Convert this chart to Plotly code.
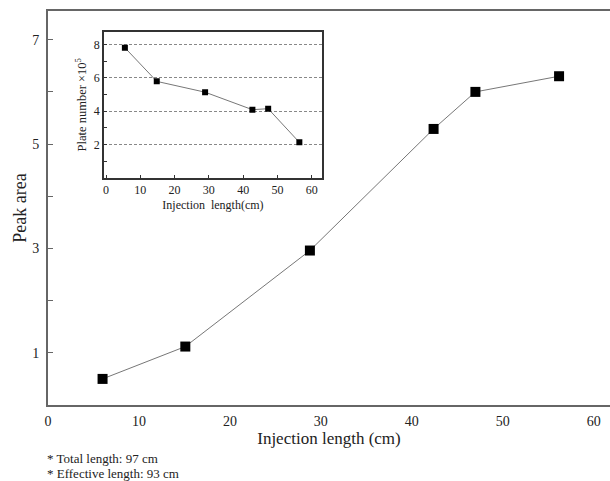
import plotly.graph_objects as go

# Main chart data
inj_len = [6.0, 15.1, 28.8, 42.4, 47.0, 56.2]
peak_area = [0.5, 1.12, 2.96, 5.29, 6.0, 6.3]

# Inset data
inset_len = [5.5, 14.8, 28.9, 42.7, 47.3, 56.4]
plate_num = [7.8, 5.78, 5.13, 4.08, 4.14, 2.12]

main_yticks = [1, 3, 5, 7]
main_xticks = [0, 10, 20, 30, 40, 50, 60]
inset_yticks = [2, 4, 6, 8]

FONT = "Liberation Serif"

fig = go.Figure()
fig.add_trace(go.Scatter(
    x=inj_len, y=peak_area, mode="lines+markers",
    line=dict(color="#777777", width=1),
    marker=dict(symbol="square", size=10, color="black"),
    showlegend=False, xaxis="x", yaxis="y"))
fig.add_trace(go.Scatter(
    x=inset_len, y=plate_num, mode="lines+markers",
    line=dict(color="#777777", width=1),
    marker=dict(symbol="square", size=6, color="black"),
    showlegend=False, xaxis="x2", yaxis="y2"))

fig.update_layout(
    width=610, height=481,
    margin=dict(l=48, r=0, t=11, b=76),
    paper_bgcolor="white", plot_bgcolor="white",
    font=dict(family=FONT, color="#222222"),
    xaxis=dict(
        domain=[0, 1], range=[0, 61.8],
        tickvals=main_xticks, ticks="", showgrid=False, zeroline=False,
        showline=True, linecolor="#666666", linewidth=2, mirror=True,
        tickfont=dict(family=FONT, size=14), ticklabelstandoff=2,
        title=dict(text="Injection length (cm)", font=dict(family=FONT, size=17), standoff=1),
    ),
    yaxis=dict(
        domain=[0, 1], range=[0, 7.55],
        tickvals=main_yticks, ticks="inside", ticklen=5, tickcolor="#666666",
        minor=dict(tickmode="linear", tick0=0, dtick=1, ticks="inside", ticklen=5, tickcolor="#666666"),
        showgrid=False, zeroline=False,
        showline=True, linecolor="#666666", linewidth=2, mirror=False,
        tickfont=dict(family=FONT, size=14), ticklabelstandoff=4,
        title=dict(text="Peak area", font=dict(family=FONT, size=18), standoff=1),
    ),
    xaxis2=dict(
        domain=[0.0996, 0.4875], range=[-0.6, 63], anchor="y2",
        tickvals=main_xticks, ticks="inside", ticklen=3, tickcolor="#333333",
        showgrid=False, zeroline=False,
        showline=True, linecolor="#333333", linewidth=1.5, mirror=True,
        tickfont=dict(family=FONT, size=12),
        title=dict(text="Injection  length(cm)", font=dict(family=FONT, size=12), standoff=5),
    ),
    yaxis2=dict(
        domain=[0.577, 0.947], range=[0, 8.75], anchor="x2",
        tickvals=inset_yticks, ticks="inside", ticklen=3, tickcolor="#333333",
        minor=dict(tickmode="linear", tick0=0, dtick=1, ticks="inside", ticklen=3, tickcolor="#333333"),
        showgrid=True, gridcolor="#888888", griddash="3px,2px", gridwidth=1,
        zeroline=False,
        showline=True, linecolor="#333333", linewidth=1.5, mirror=True,
        tickfont=dict(family=FONT, size=12),
        title=dict(text="Plate number \u00d710<sup>5</sup>", font=dict(family=FONT, size=12.5), standoff=4),
    ),
    annotations=[
        dict(text="* Total length: 97 cm", xref="paper", yref="paper",
             x=-0.005, y=-0.135, xanchor="left", yanchor="middle",
             showarrow=False, font=dict(family=FONT, size=13)),
        dict(text="* Effective length: 93 cm", xref="paper", yref="paper",
             x=-0.005, y=-0.173, xanchor="left", yanchor="middle",
             showarrow=False, font=dict(family=FONT, size=13)),
    ],
)

fig.write_html("out.html")
